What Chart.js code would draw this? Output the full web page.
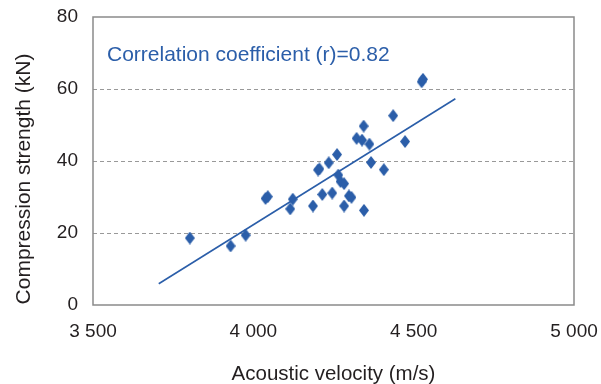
<!DOCTYPE html>
<html>
<head>
<meta charset="utf-8">
<script src="https://cdn.jsdelivr.net/npm/chart.js@4/dist/chart.umd.min.js"></script>
<style>
  html, body { margin: 0; padding: 0; background: #fff; }
  #chart { display: block; }
</style>
</head>
<body>
<canvas id="chart" width="601" height="384"></canvas>
<script>
'use strict';

// acoustic velocity (m/s) per sample
var velocity = [3802, 3929, 3976, 4038, 4045, 4115, 4123, 4186, 4202, 4206, 4215,
    4235, 4246, 4261, 4265, 4272, 4283, 4283, 4298, 4306, 4322, 4339, 4344, 4345,
    4362, 4367, 4407, 4436, 4473, 4525, 4529];
// compression strength (kN) per sample
var strength = [18.6, 16.4, 19.4, 29.6, 30.1, 26.7, 29.4, 27.5, 37.5, 37.8, 30.7,
    39.5, 31.1, 41.8, 36.1, 34.3, 33.7, 27.5, 30.3, 29.9, 46.3, 45.8, 49.7, 26.3,
    44.7, 39.6, 37.6, 52.6, 45.4, 62.0, 62.7];
// trend line end points
var fitX = [3705, 4630];
var fitY = [5.9, 57.3];

var xTicks = [3500, 4000, 4500, 5000];
var yTicks = [0, 20, 40, 60, 80];
var xTitle = 'Acoustic velocity (m/s)';
var yTitle = 'Compression strength (kN)';
var note = 'Correlation coefficient (r)=0.82';

var BLUE = '#2b5ea9';
var TEXT = '#231f20';
var FONT = '"Liberation Sans", Arial, Helvetica, sans-serif';

// tall diamond marker
var diamond = document.createElement('canvas');
diamond.width = 10;
diamond.height = 13;
(function () {
    var c = diamond.getContext('2d');
    c.fillStyle = BLUE;
    c.beginPath();
    c.moveTo(5, 0);
    c.lineTo(10, 6.5);
    c.lineTo(5, 13);
    c.lineTo(0, 6.5);
    c.closePath();
    c.fill();
})();

var points = velocity.map(function (v, i) { return {x: v, y: strength[i]}; });
var fit = fitX.map(function (v, i) { return {x: v, y: fitY[i]}; });

var frame = {
    id: 'frame',
    afterDraw: function (chart) {
        var a = chart.chartArea;
        var ctx = chart.ctx;
        ctx.save();
        ctx.strokeStyle = '#8a8a8a';
        ctx.lineWidth = 1.5;
        ctx.strokeRect(a.left, a.top, a.right - a.left, a.bottom - a.top);

        ctx.fillStyle = BLUE;
        ctx.font = '21px ' + FONT;
        ctx.textAlign = 'left';
        ctx.textBaseline = 'alphabetic';
        ctx.fillText(note, 107, 61);

        ctx.fillStyle = TEXT;
        ctx.font = '20.5px ' + FONT;
        ctx.textAlign = 'center';
        ctx.fillText(xTitle, (a.left + a.right) / 2, 380);

        ctx.font = '21px ' + FONT;
        ctx.translate(30, 179);
        ctx.rotate(-Math.PI / 2);
        ctx.fillText(yTitle, 0, 0);
        ctx.restore();
    }
};

function spaced(v) {
    return String(v).replace(/\B(?=(\d{3})+(?!\d))/g, ' ');
}

new Chart(document.getElementById('chart'), {
    type: 'scatter',
    data: {
        datasets: [{
            label: 'samples',
            data: points,
            pointStyle: diamond,
            pointRadius: 5,
            backgroundColor: BLUE,
            borderColor: BLUE
        }, {
            type: 'line',
            label: 'fit',
            data: fit,
            borderColor: BLUE,
            borderWidth: 1.6,
            pointRadius: 0,
            fill: false
        }]
    },
    options: {
        responsive: false,
        animation: false,
        devicePixelRatio: 1,
        layout: {padding: {top: 17, right: 27, left: 0, bottom: 0}},
        plugins: {
            legend: {display: false},
            tooltip: {enabled: false}
        },
        scales: {
            x: {
                type: 'linear',
                min: xTicks[0],
                max: xTicks[xTicks.length - 1],
                afterBuildTicks: function (scale) {
                    scale.ticks = xTicks.map(function (v) { return {value: v}; });
                },
                afterFit: function (scale) {
                    scale.height = 79;
                    scale.paddingLeft = 0;
                    scale.paddingRight = 0;
                },
                grid: {display: false, drawTicks: false},
                border: {display: false},
                ticks: {
                    padding: 15,
                    color: TEXT,
                    font: {family: FONT, size: 19},
                    maxRotation: 0,
                    callback: function (v) { return spaced(v); }
                }
            },
            y: {
                type: 'linear',
                min: yTicks[0],
                max: yTicks[yTicks.length - 1],
                afterBuildTicks: function (scale) {
                    scale.ticks = yTicks.map(function (v) { return {value: v}; });
                },
                afterFit: function (scale) {
                    scale.width = 93;
                    scale.paddingTop = 0;
                    scale.paddingBottom = 0;
                },
                grid: {
                    drawTicks: false,
                    lineWidth: 1,
                    color: function (c) {
                        var v = c.tick && c.tick.value;
                        return (v > yTicks[0] && v < yTicks[yTicks.length - 1]) ? '#999999' : 'rgba(0,0,0,0)';
                    }
                },
                border: {display: false, dash: [4, 3]},
                ticks: {
                    padding: 15,
                    color: TEXT,
                    font: {family: FONT, size: 19}
                }
            }
        }
    },
    plugins: [frame]
});
</script>
</body>
</html>
